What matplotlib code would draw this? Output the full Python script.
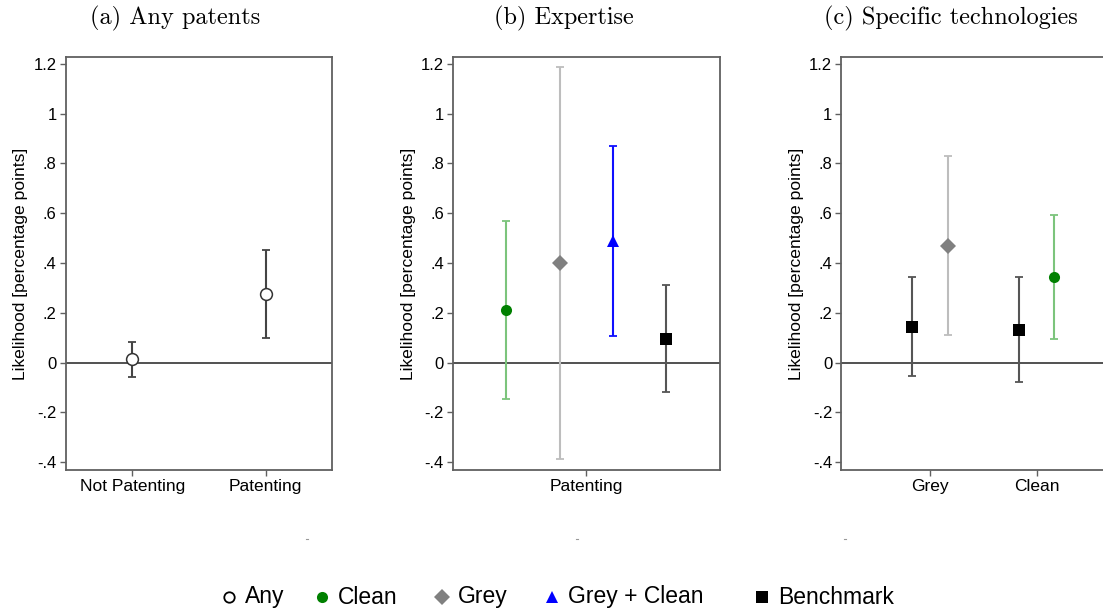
import matplotlib
matplotlib.use("Agg")
import matplotlib.pyplot as plt
from matplotlib.lines import Line2D

plt.rcParams['font.family'] = ['Liberation Sans', 'DejaVu Sans']

# (a) any patents
a_labels = ['Not Patenting', 'Patenting']
a_est = [0.015, 0.274]
a_lo = [-0.056, 0.097]
a_hi = [0.084, 0.452]

# (b) expertise: Clean, Grey, Grey + Clean, Benchmark
b_groups = ['Clean', 'Grey', 'Grey + Clean', 'Benchmark']
b_est = [0.211, 0.400, 0.490, 0.096]
b_lo = [-0.144, -0.385, 0.107, -0.118]
b_hi = [0.568, 1.187, 0.870, 0.312]

# (c) specific technologies: benchmark vs. technology within each category
c_labels = ['Grey', 'Clean']
c_bench_est = [0.144, 0.131]
c_bench_lo = [-0.055, -0.079]
c_bench_hi = [0.345, 0.342]
c_tech = ['Grey', 'Clean']
c_tech_est = [0.469, 0.345]
c_tech_lo = [0.110, 0.093]
c_tech_hi = [0.831, 0.593]

yticks = [-0.4, -0.2, 0, 0.2, 0.4, 0.6, 0.8, 1.0, 1.2]
ytick_labels = ['-.4', '-.2', '0', '.2', '.4', '.6', '.8', '1', '1.2']

# marker / color scheme per series
style = {
    'Any':          dict(marker='o', mfc='white', mec='#333333', ms=8.5, mew=1.1, ci='#444444'),
    'Clean':        dict(marker='o', mfc='#008000', mec='#008000', ms=8, mew=0, ci='#7cc47c'),
    'Grey':         dict(marker='D', mfc='#808080', mec='#808080', ms=8, mew=0, ci='#bdbdbd'),
    'Grey + Clean': dict(marker='^', mfc='#0000ff', mec='#0000ff', ms=9, mew=0, ci='#1010ff'),
    'Benchmark':    dict(marker='s', mfc='black', mec='black', ms=9, mew=0, ci='#555555'),
}


def draw_point(ax, x, est, lo, hi, key):
    s = style[key]
    ax.errorbar([x], [est], yerr=[[est - lo], [hi - est]], fmt='none',
                ecolor=s['ci'], elinewidth=1.5, capsize=3, capthick=1.3, zorder=2)
    ax.plot([x], [est], linestyle='none', marker=s['marker'], mfc=s['mfc'],
            mec=s['mec'], ms=s['ms'], mew=s['mew'], zorder=3)


def style_axes(ax):
    ax.set_ylim(-0.431, 1.227)
    ax.set_yticks(yticks)
    ax.set_yticklabels(ytick_labels)
    ax.axhline(0, color='#333333', lw=1.2, zorder=1)
    for sp in ax.spines.values():
        sp.set_color('#606060')
        sp.set_linewidth(1.3)
    ax.tick_params(axis='both', direction='out', length=4.5, width=1, color='#606060', pad=2)
    ax.tick_params(axis='y', labelsize=12)
    ax.tick_params(axis='x', labelsize=12.5)
    ax.set_ylabel('Likelihood [percentage points]', fontsize=12.6)
    ax.yaxis.set_label_coords(-0.14, 0.5)


W, H = 1103, 615
fig = plt.figure(figsize=(W / 100, H / 100), dpi=100)

ax_bottom = 1 - 470 / H
ax_h = 413 / H
ax_w = 266.7 / W
ax_a = fig.add_axes([65.7 / W, ax_bottom, ax_w, ax_h])
ax_b = fig.add_axes([453 / W, ax_bottom, ax_w, ax_h])
ax_c = fig.add_axes([841.3 / W, ax_bottom, ax_w, ax_h])

# panel (a)
for i, lab in enumerate(a_labels):
    draw_point(ax_a, i + 1, a_est[i], a_lo[i], a_hi[i], 'Any')
ax_a.set_xlim(0.5, 2.5)
ax_a.set_xticks([1, 2])
ax_a.set_xticklabels(a_labels)
style_axes(ax_a)

# panel (b)
for i, g in enumerate(b_groups):
    draw_point(ax_b, i + 1, b_est[i], b_lo[i], b_hi[i], g)
ax_b.set_xlim(0, 5)
ax_b.set_xticks([2.5])
ax_b.set_xticklabels(['Patenting'])
style_axes(ax_b)

# panel (c)
off = 1 / 6
for i, lab in enumerate(c_labels):
    draw_point(ax_c, i + 1 - off, c_bench_est[i], c_bench_lo[i], c_bench_hi[i], 'Benchmark')
    draw_point(ax_c, i + 1 + off, c_tech_est[i], c_tech_lo[i], c_tech_hi[i], c_tech[i])
ax_c.set_xlim(0.169, 2.668)
ax_c.set_xticks([1, 2])
ax_c.set_xticklabels(c_labels)
style_axes(ax_c)

# panel titles
titles = ['(a) Any patents', '(b) Expertise', '(c) Specific technologies']
title_x = [175, 564, 951]
for t, x in zip(titles, title_x):
    fig.text(x / W, 1 - 18 / H, t, ha='center', va='center', fontsize=17.5, family='cmr10')

# small stray marks under each panel
for x in [306, 576, 844]:
    fig.add_artist(Line2D([x / W, (x + 2) / W], [1 - 539 / H] * 2, color='#999999', lw=0.8))

# shared legend along the bottom
leg_keys = ['Any', 'Clean', 'Grey', 'Grey + Clean', 'Benchmark']
leg_x = [229, 322, 442, 552, 762]
leg_y = 1 - 597 / H
for k, x in zip(leg_keys, leg_x):
    s = style[k]
    if k == 'Any':
        fig.add_artist(Line2D([x / W], [leg_y], linestyle='none', marker='o',
                              mfc='white', mec='black', ms=7.5, mew=1.3))
    else:
        fig.add_artist(Line2D([x / W], [leg_y], linestyle='none', marker=s['marker'],
                              mfc=s['mfc'], mec=s['mfc'], ms=s['ms'], mew=0))
    fig.text((x + 16) / W, leg_y, k, ha='left', va='center', fontsize=16.5)

fig.savefig('out.png', dpi=100)
